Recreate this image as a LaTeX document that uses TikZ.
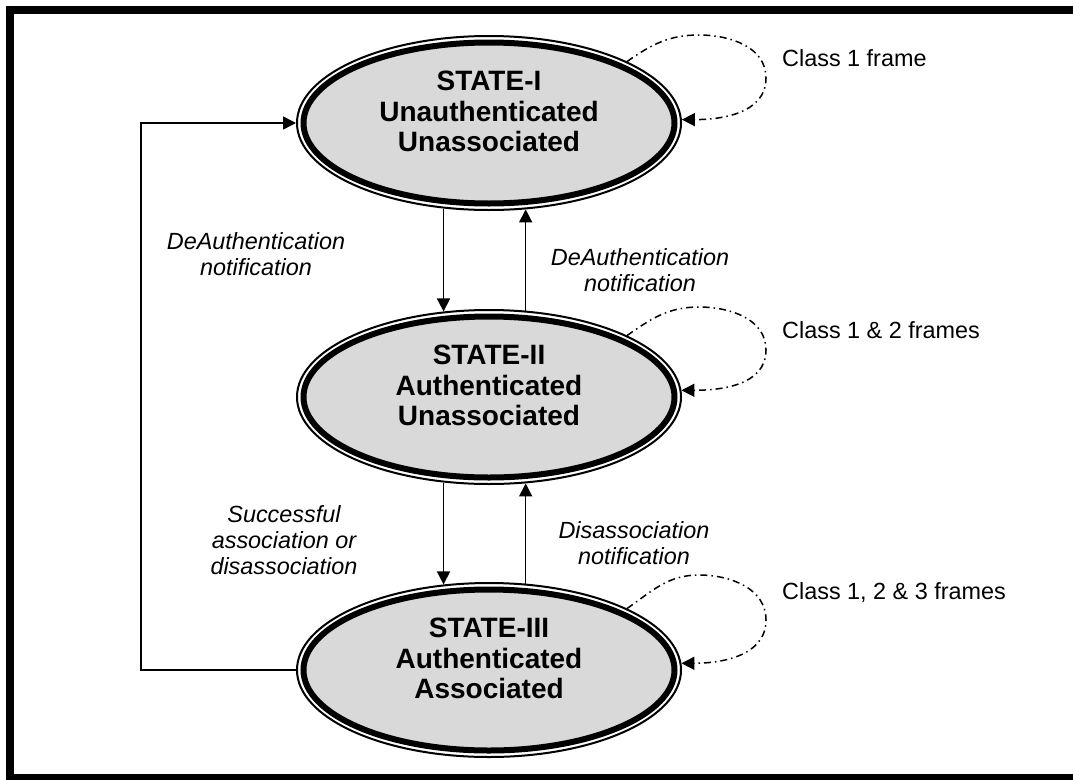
\documentclass[tikz,border=0pt]{standalone}
\usepackage{fontspec}
\setmainfont{Liberation Sans}
\usetikzlibrary{arrows.meta,shapes.geometric,calc}
\definecolor{statefill}{RGB}{217,217,217}

\begin{document}
\begin{tikzpicture}[x=1pt,y=1pt,
  state/.style={ellipse, draw, line width=2pt, fill=white,
    minimum width=384pt, minimum height=174pt, inner sep=0pt,
    align=center, font=\fontsize{28}{30.5}\selectfont\bfseries,
    path picture={\draw[line width=6pt, fill=statefill]
      (path picture bounding box.center) ellipse [x radius=185.5pt, y radius=80.5pt];}},
  trans/.style={line width=1.5pt, -{Triangle[length=13pt,width=13pt]}},
  selfloop/.style={line width=1.5pt, dash pattern=on 7pt off 4pt on 1.5pt off 4pt,
    -{Triangle[length=13pt,width=13pt]}},
  note/.style={font=\fontsize{23.4}{26}\selectfont\itshape, align=center, inner sep=0pt},
  classlbl/.style={font=\fontsize{23.4}{26}\selectfont, anchor=west, inner sep=0pt}]

\useasboundingbox (0,0) rectangle (1073,-779);

% outer frame (right side runs off the page)
\draw[line width=8pt] (10,-10) rectangle (1090,-778);

% the three states
\node[state] (I)   at (489,-123) {STATE-I\\Unauthenticated\\Unassociated\rule[-23pt]{0pt}{23pt}};
\node[state] (II)  at (489,-397) {STATE-II\\Authenticated\\Unassociated\rule[-23pt]{0pt}{23pt}};
\node[state] (III) at (489,-670) {STATE-III\\Authenticated\\Associated\rule[-23pt]{0pt}{23pt}};

% transitions between states
\draw[trans] (I.-118.84) -- (II.118.84);
\draw[trans] (II.67.98) -- (I.-67.98);
\draw[trans] (II.-118.84) -- (III.118.84);
\draw[trans] (III.67.98) -- (II.-67.98);
\draw[trans] (III.west) -- ++(-155,0) |- (I.west);

% self loops for the permitted frame classes
\draw[selfloop] (I.24) to[out=35,in=180] ($(I.center)+(210,88)$)
  to[out=0,in=90] ($(I.center)+(277,45)$) to[out=-90,in=0] (I.1);
\draw[selfloop] (II.24) to[out=35,in=180] ($(II.center)+(210,90)$)
  to[out=0,in=90] ($(II.center)+(277,47)$) to[out=-90,in=0] (II.2);
\draw[selfloop] (III.24) to[out=35,in=180] ($(III.center)+(210,95)$)
  to[out=0,in=90] ($(III.center)+(277,50)$) to[out=-90,in=0] (III.2);

% transition labels
\node[note] (n1) at (256,-254) {DeAuthentication\\notification};
\node[note] (n2) at (640,-270) {DeAuthentication\\notification};
\node[note] (n3) at (284,-540) {Successful\\association or\\disassociation};
\node[note] (n4) at (634,-543) {Disassociation\\notification};

% frame class labels
\node[classlbl] (c1) at (782,-58)  {Class 1 frame};
\node[classlbl] (c2) at (782,-330) {Class 1 \& 2 frames};
\node[classlbl] (c3) at (782,-593) {Class 1, 2 \& 3 frames};
\end{tikzpicture}
\end{document}
